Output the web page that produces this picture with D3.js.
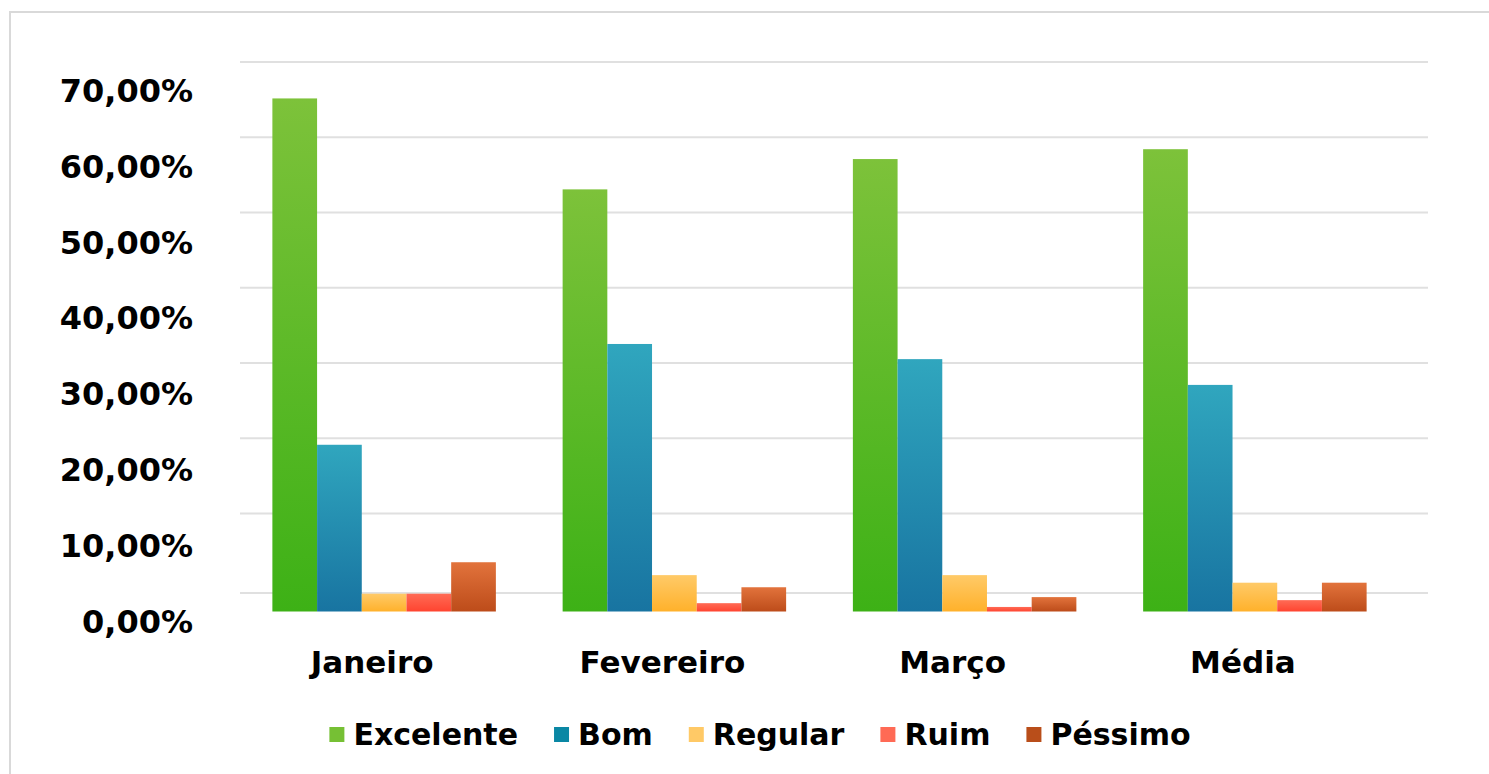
<!DOCTYPE html>
<html>
<head>
<meta charset="utf-8">
<script src="https://cdn.jsdelivr.net/npm/d3@7.9.0/dist/d3.min.js"></script>
<style>
  body { margin: 0; background: #fff; }
  svg { display: block; font-family: "DejaVu Sans", Verdana, sans-serif; font-weight: bold; }
</style>
</head>
<body>
<svg id="chart" width="1489" height="774"></svg>
<script>
// data (percent)
const months = ['Janeiro', 'Fevereiro', 'Março', 'Média'];
const seriesNames = ['Excelente', 'Bom', 'Regular', 'Ruim', 'Péssimo'];
const excelente = [67.7, 55.7, 59.7, 61.0];
const bom = [22.0, 35.3, 33.3, 29.9];
const regular = [2.35, 4.8, 4.8, 3.8];
const ruim = [2.35, 1.1, 0.6, 1.5];
const pessimo = [6.5, 3.2, 1.9, 3.8];
const yTicks = [0, 10, 20, 30, 40, 50, 60, 70];

const allValues = [excelente, bom, regular, ruim, pessimo];

// colours: [top, bottom] of gradient, plus legend swatch
const gradColors = [
  ['#7dc23a', '#3db116'],
  ['#30a6be', '#1874a1'],
  ['#ffca68', '#ffb12b'],
  ['#ff6b55', '#ff4430'],
  ['#e2733c', '#bd4c1a'],
];
const swatchColors = ['#76c034', '#0a87a4', '#ffc966', '#ff6a55', '#b94e1a'];

const svg = d3.select('#chart');

// outer frame
svg.append('rect')
  .attr('x', 10).attr('y', 12)
  .attr('width', 1500).attr('height', 800)
  .attr('fill', '#fff')
  .attr('stroke', '#d9d9d9')
  .attr('stroke-width', 2);

// gradients
const defs = svg.append('defs');
gradColors.forEach((c, i) => {
  const g = defs.append('linearGradient')
    .attr('id', 'grad' + i)
    .attr('x1', 0).attr('y1', 0).attr('x2', 0).attr('y2', 1);
  g.append('stop').attr('offset', '0%').attr('stop-color', c[0]);
  g.append('stop').attr('offset', '100%').attr('stop-color', c[1]);
});

// scales
const y = d3.scaleLinear().domain([0, 70]).range([611.5, 81]);
// gridlines sit a bit above the bar scale in the original, bottom gap wider
const yGrid = d3.scaleLinear().domain([0, 10, 70]).range([593, 513.5, 62]);
const x = d3.scaleBand().domain(months).range([239, 1400])
  .paddingInner(0.23).paddingOuter(0.115);
const xs = d3.scaleBand().domain(seriesNames).range([0, x.bandwidth()]);

// gridlines
svg.append('g')
  .selectAll('line')
  .data(yTicks)
  .join('line')
  .attr('x1', 240).attr('x2', 1428)
  .attr('y1', d => yGrid(d))
  .attr('y2', d => yGrid(d))
  .attr('stroke', '#e0e0e0')
  .attr('stroke-width', 2);

// y labels
svg.append('g')
  .selectAll('text')
  .data(yTicks)
  .join('text')
  .attr('x', 193)
  .attr('y', d => y(d) + 9.5)
  .attr('dy', '0.36em')
  .attr('text-anchor', 'end')
  .attr('font-size', 32)
  .attr('fill', '#000')
  .text(d => d3.format('.2f')(d).replace('.', ',') + '%');

// bars
const groups = svg.append('g')
  .selectAll('g')
  .data(months)
  .join('g')
  .attr('transform', d => `translate(${x(d)},0)`);

groups.selectAll('rect')
  .data((m, mi) => seriesNames.map((s, si) => ({ s, si, v: allValues[si][mi] })))
  .join('rect')
  .attr('x', d => xs(d.s))
  .attr('width', xs.bandwidth())
  .attr('y', d => y(d.v))
  .attr('height', d => y(0) - y(d.v))
  .attr('fill', d => `url(#grad${d.si})`);

// category labels
svg.append('g')
  .selectAll('text')
  .data(months)
  .join('text')
  .attr('x', d => x(d) + x.bandwidth() / 2 - 12)
  .attr('y', 673)
  .attr('text-anchor', 'middle')
  .attr('font-size', 31)
  .text(d => d);

// legend
const legend = svg.append('g');
const items = legend.selectAll('g')
  .data(seriesNames)
  .join('g');
items.append('rect')
  .attr('width', 15).attr('height', 15)
  .attr('y', 727)
  .attr('fill', (d, i) => swatchColors[i]);
items.append('text')
  .attr('x', 24)
  .attr('y', 745)
  .attr('font-size', 30)
  .text(d => d);

let cx = 0;
const widths = [];
items.each(function () {
  const w = d3.select(this).select('text').node().getComputedTextLength();
  widths.push(w);
});
const total = d3.sum(widths, w => w + 24) + 36 * (widths.length - 1);
cx = 760 - total / 2;
items.attr('transform', (d, i) => {
  const t = `translate(${cx},0)`;
  cx += widths[i] + 24 + 36;
  return t;
});
</script>
</body>
</html>
